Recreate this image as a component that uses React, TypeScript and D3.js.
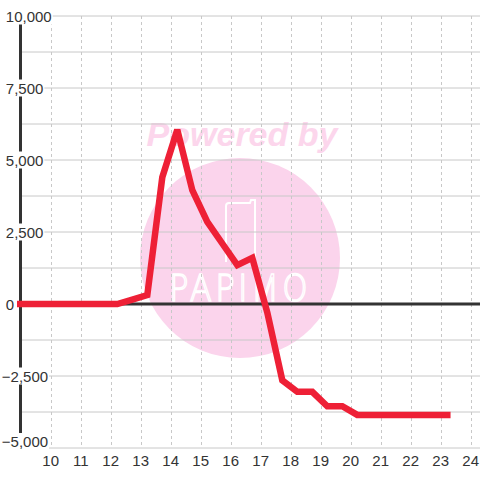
import { useRef, useEffect } from 'react';
import * as d3 from 'd3';

// hour positions of each sample (half-hour steps) and the plotted values
const HOURS = [
  8.72, 9.22, 9.72, 10.22, 10.72, 11.22, 11.72, 12.22, 12.72, 13.22,
  13.72, 14.22, 14.72, 15.22, 15.72, 16.22, 16.72, 17.22, 17.72, 18.22,
  18.72, 19.22, 19.72, 20.22, 20.72, 21.22, 21.72, 22.22, 22.72, 23.22,
];
const VALUES = [
  0, 0, 0, 0, 0, 0, 0, 0, 150, 310,
  4400, 6050, 3950, 2850, 2100, 1350, 1600, -300, -2650, -3050,
  -3050, -3550, -3550, -3850, -3850, -3850, -3850, -3850, -3850, -3850,
];
const X_TICKS = [10, 11, 12, 13, 14, 15, 16, 17, 18, 19, 20, 21, 22, 23, 24];
const Y_TICKS = [10000, 7500, 5000, 2500, 0, -2500, -5000];
const Y_MINOR = [8750, 6250, 3750, 1250, -1250, -3750];

const W = 480, H = 480;
const FONT = '"Liberation Sans", Arial, sans-serif';

export default function App() {
  const svgRef = useRef<SVGSVGElement>(null);

  useEffect(() => {
    const svg = d3.select(svgRef.current);
    svg.selectAll('*').remove();

    const x = d3.scaleLinear().domain([9, 25]).range([20.7, 500.7]);
    const y = d3.scaleLinear().domain([-5000, 10000]).range([448, 16]);
    const left = 20, right = 480;

    svg.append('rect').attr('width', W).attr('height', H).attr('fill', '#fff');

    // watermark
    const wm = svg.append('g');
    wm.append('circle').attr('cx', 240).attr('cy', 258).attr('r', 100).attr('fill', '#fbd4ec');
    wm.append('text').attr('x', 242).attr('y', 146).attr('text-anchor', 'middle')
      .attr('font-family', FONT).attr('font-size', 34).attr('font-weight', 700)
      .attr('font-style', 'italic').attr('fill', '#fcd6ec').text('Powered by');
    wm.append('path')
      .attr('d', 'M226,262 L226,206 Q226,203 229,203 L250,203 L251,200 L255,200 L255,262')
      .attr('fill', 'none').attr('stroke', '#fff').attr('stroke-width', 2);
    wm.append('text').attr('x', 240).attr('y', 301).attr('text-anchor', 'middle')
      .attr('font-family', '"DejaVu Sans", sans-serif').attr('font-size', 38).attr('font-weight', 200)
      .attr('letter-spacing', 4).attr('fill', 'none').attr('stroke', '#fff').attr('stroke-width', 1.5)
      .attr('transform', 'translate(240,0) scale(0.85,1) translate(-240,0)')
      .text('PAPIMO');

    // horizontal gridlines
    svg.append('g').selectAll('line').data([...Y_TICKS.filter(d => d !== 0), ...Y_MINOR]).join('line')
      .attr('x1', left).attr('x2', right).attr('y1', d => y(d)).attr('y2', d => y(d))
      .attr('stroke', '#c8c8c8').attr('stroke-width', 1);

    // vertical dashed gridlines
    svg.append('g').selectAll('line').data(X_TICKS).join('line')
      .attr('x1', d => Math.round(x(d)) + 0.5).attr('x2', d => Math.round(x(d)) + 0.5)
      .attr('y1', y(10000)).attr('y2', y(-5000))
      .attr('stroke', '#c8c8c8').attr('stroke-width', 1).attr('stroke-dasharray', '3 3');

    // zero line
    svg.append('line').attr('x1', left).attr('x2', right).attr('y1', y(0)).attr('y2', y(0))
      .attr('stroke', '#333').attr('stroke-width', 3);

    // y axis
    svg.append('line').attr('x1', 20.5).attr('x2', 20.5).attr('y1', 24).attr('y2', 436)
      .attr('stroke', '#333').attr('stroke-width', 3);

    // series
    const clip = svg.append('clipPath').attr('id', 'plot-clip');
    clip.append('rect').attr('x', 17).attr('y', 0).attr('width', W).attr('height', H);
    const line = d3.line<number>().x((_, i) => x(HOURS[i])).y(v => y(v));
    svg.append('path').attr('clip-path', 'url(#plot-clip)')
      .attr('d', line(VALUES) ?? '')
      .attr('fill', 'none').attr('stroke', '#ee2036').attr('stroke-width', 6.5)
      .attr('stroke-linejoin', 'miter').attr('stroke-miterlimit', 2.5).attr('stroke-linecap', 'square');

    // y labels with white backing
    const yl = svg.append('g');
    Y_TICKS.forEach(v => {
      const g = yl.append('g');
      const bg = g.append('rect').attr('fill', '#fff');
      const t = g.append('text').attr('x', v < 0 ? 1.8 : 5.8).attr('y', Math.min(y(v) + 5.5, 447))
        .attr('font-family', FONT).attr('font-size', 15).attr('fill', '#333')
        .text(d3.format(',')(v));
      const b = (t.node() as SVGTextElement).getBBox();
      bg.attr('x', b.x - 1).attr('y', b.y).attr('width', b.width + 2).attr('height', b.height);
    });

    // x labels
    svg.append('g').selectAll('text').data(X_TICKS).join('text')
      .attr('x', d => x(d)).attr('y', 466).attr('text-anchor', 'middle')
      .attr('font-family', FONT).attr('font-size', 15).attr('fill', '#333')
      .text(d => d);
  }, []);

  return (
    <svg ref={svgRef} width={W} height={H} viewBox={`0 0 ${W} ${H}`}
      style={{ position: 'absolute', left: 0, top: 0 }} />
  );
}
